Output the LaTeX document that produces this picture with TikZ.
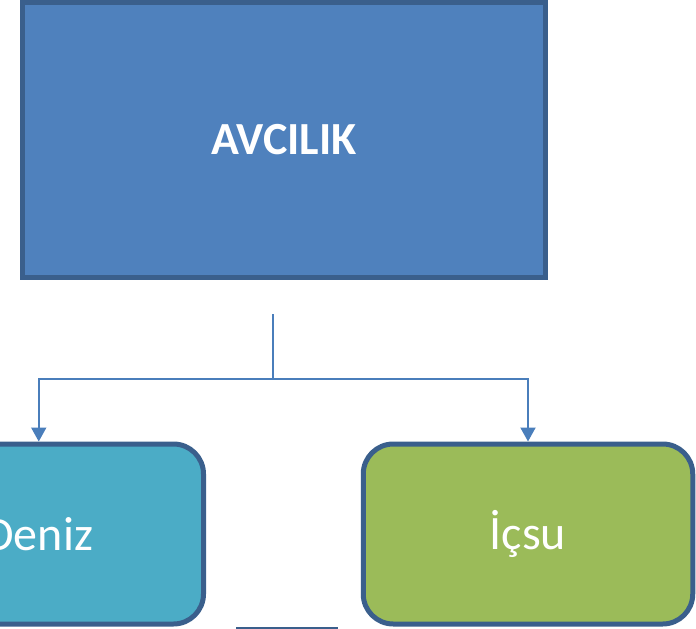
\documentclass[tikz,border=0pt]{standalone}
\usepackage{fontspec}
\setmainfont{Carlito}
\usetikzlibrary{arrows.meta}

\definecolor{topblue}{HTML}{4F81BD}
\definecolor{edgeblue}{HTML}{3A5F8C}
\definecolor{lineblue}{HTML}{4A7EBB}
\definecolor{seacyan}{HTML}{4BACC6}
\definecolor{lakegreen}{HTML}{9BBB59}

\tikzset{
  kutu/.style={draw=edgeblue,line width=5pt,text=white,font=\fontsize{48}{56}\selectfont},
  altkutu/.style={kutu,rounded corners=30pt,minimum width=329.5pt,minimum height=180pt},
  bag/.style={lineblue,line width=2pt},
  ok/.style={bag,-{Triangle[width=15pt,length=14pt]}}
}

\begin{document}
\begin{tikzpicture}[x=1pt,y=-1pt]
  \useasboundingbox (0,0) rectangle (696,629);
  \node[kutu,fill=topblue,minimum width=523pt,minimum height=275.5pt,font=\fontsize{46}{54}\selectfont\bfseries] (avcilik) at (284,139.75) {AVCILIK};
    \node[altkutu,fill=seacyan] (deniz) at (38.75,534) {Deniz};
  \node[altkutu,fill=lakegreen] (icsu) at (528,534) {İçsu};

  \coordinate (ayrim) at (272.5,314);
    \coordinate (kavsak) at (272.5,379);
  \draw[bag] (ayrim) -- (kavsak);
  \draw[ok] (kavsak) -| (deniz.north);
    \draw[ok] (kavsak) -| (icsu.north);

  \coordinate (cizgiA) at (236,628);
  \coordinate (cizgiB) at (338,628);
  \draw[edgeblue,line width=3pt] (cizgiA) -- (cizgiB);
\end{tikzpicture}
\end{document}
